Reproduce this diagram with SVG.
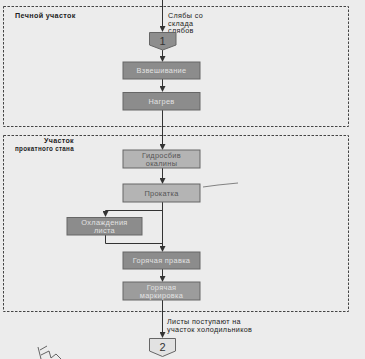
<svg xmlns="http://www.w3.org/2000/svg" width="365" height="359" viewBox="0 0 365 359">
<defs>
<marker id="ah" markerWidth="6" markerHeight="6" refX="5" refY="3" orient="auto" markerUnits="userSpaceOnUse">
<path d="M0,0 L6,3 L0,6 Z" fill="#333"/>
</marker>
<style>
.zone{fill:none;stroke:#444;stroke-width:1;stroke-dasharray:2.5,1.5}
.box{stroke:#666;stroke-width:1}
.dark{fill:#8c8c8c}
.mid{fill:#9c9c9c}
.light{fill:#b4b4b4}
.t{font-family:"Liberation Sans",Arial,sans-serif;font-size:7.4px;letter-spacing:0.3px;text-anchor:middle}
.tl{fill:#e2e2e2}
.td{fill:#555}
.lab{font-family:"Liberation Sans",Arial,sans-serif;font-size:7.2px;letter-spacing:0.35px;fill:#222}
.b{font-weight:bold}
.c{fill:none;stroke:#333;stroke-width:1}
</style>
</defs>
<rect width="365" height="359" fill="#ececec"/>

<g id="zone-furnace">
<rect class="zone" x="3.5" y="6.5" width="345" height="120"/>
<text class="lab b" x="15" y="18">Печной участок</text>
</g>
<g id="zone-mill">
<rect class="zone" x="3.5" y="135.5" width="345" height="176"/>
<text class="lab b" x="44" y="143" textLength="30" lengthAdjust="spacingAndGlyphs">Участок</text>
<text class="lab b" x="15" y="151" textLength="59" lengthAdjust="spacingAndGlyphs">прокатного стана</text>
</g>

<g id="connectors">
<path class="c" d="M162.5,0 V31" marker-end="url(#ah)"/>
<path class="c" d="M162.5,50 V61" marker-end="url(#ah)"/>
<path class="c" d="M162.5,79 V91" marker-end="url(#ah)"/>
<path class="c" d="M162.5,110 V149" marker-end="url(#ah)"/>
<path class="c" d="M162.5,168 V183" marker-end="url(#ah)"/>
<path class="c" d="M162.5,202 V251" marker-end="url(#ah)"/>
<path class="c" d="M162.5,210.5 H105.5 V216" marker-end="url(#ah)"/>
<path class="c" d="M105.5,235 V243.5 H162.5"/>
<path class="c" d="M162.5,269 V281" marker-end="url(#ah)"/>
<path class="c" d="M162.5,300 V337" marker-end="url(#ah)"/>
</g>

<g id="src-label">
<text class="lab" x="168" y="18">Слябы со</text>
<text class="lab" x="168" y="25.5">склада</text>
<text class="lab" x="168" y="33">слябов</text>
</g>

<g id="node-1">
<path d="M149.5,32.5 H176 V45 L162.7,50 L149.5,45 Z" fill="#8e8e8e" stroke="#666"/>
<text x="162.5" y="45" font-family="Liberation Sans,Arial,sans-serif" font-size="11" text-anchor="middle" fill="#333">1</text>
</g>

<g id="node-weigh">
<rect class="box dark" x="123" y="62" width="77" height="17"/>
<text class="t tl" x="161.5" y="73">Взвешивание</text>
</g>
<g id="node-heat">
<rect class="box dark" x="123" y="92.5" width="77" height="17.5"/>
<text class="t tl" x="161.5" y="104">Нагрев</text>
</g>
<g id="node-descale">
<rect class="box light" x="123" y="150" width="77" height="18"/>
<text class="t td" x="161.5" y="158">Гидросбив</text>
<text class="t td" x="161.5" y="165.5">окалины</text>
</g>
<g id="node-roll">
<rect class="box light" x="123" y="184" width="77" height="18"/>
<text class="t td" x="161.5" y="195.5">Прокатка</text>
</g>
<g id="node-cool">
<rect class="box dark" x="67" y="217.5" width="75" height="17.5"/>
<text class="t tl" x="104.5" y="225">Охлаждения</text>
<text class="t tl" x="104.5" y="232.5">листа</text>
</g>
<g id="node-straighten">
<rect class="box dark" x="123" y="252" width="77" height="17"/>
<text class="t tl" x="161.5" y="263">Горячая правка</text>
</g>
<g id="node-mark">
<rect class="box mid" x="123" y="282" width="77" height="18"/>
<text class="t tl" x="161.5" y="290">Горячая</text>
<text class="t tl" x="161.5" y="297.5">маркировка</text>
</g>

<g id="out-label">
<text class="lab" x="167" y="324">Листы поступают на</text>
<text class="lab" x="167" y="331.5">участок холодильников</text>
</g>

<g id="node-2">
<path d="M149.5,338.5 H175.5 V351 L162.5,356.5 L149.5,351 Z" fill="#e2e2e2" stroke="#666"/>
<text x="162.5" y="351" font-family="Liberation Sans,Arial,sans-serif" font-size="11" text-anchor="middle" fill="#333">2</text>
</g>

<path d="M203,187 L218,185 L238,183" fill="none" stroke="#666" stroke-width="0.8"/>
<path d="M38,347 L41,359 M40,350 L47,346 M41,355 L49,351 L51,358 L56,354 L61,359" fill="none" stroke="#555" stroke-width="0.9"/>
</svg>
